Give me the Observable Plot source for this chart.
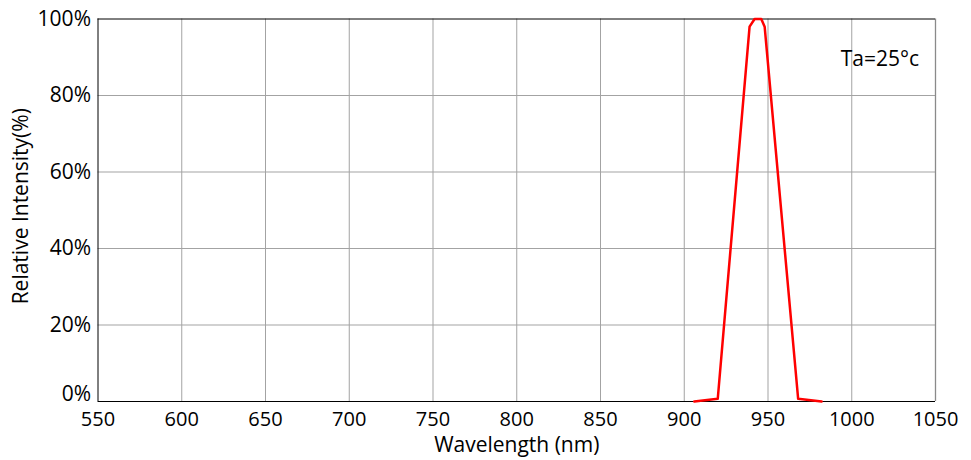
<!DOCTYPE html>
<html>
<head>
<meta charset="utf-8">
<script src="https://cdn.jsdelivr.net/npm/d3@7"></script>
<script src="https://cdn.jsdelivr.net/npm/@observablehq/plot@0.6"></script>
<style>
  html, body { margin: 0; padding: 0; background: #fff; }
  #chart { width: 971px; height: 460px; }
</style>
</head>
<body>
<div id="chart"></div>
<script>
const wavelength = [906, 920, 939, 942, 946, 948, 968, 982];
const intensity = [0, 0.7, 98, 100, 100, 98, 0.7, 0];
const xTicks = [550, 600, 650, 700, 750, 800, 850, 900, 950, 1000, 1050];
const yTicks = [0, 20, 40, 60, 80, 100];
const annotation = ["Ta=25°c"];

const data = wavelength.map((w, i) => ({w, v: intensity[i]}));
const font = "'Open Sans', 'Noto Sans', sans-serif";
const fs = 21;

const chart = Plot.plot({
  width: 971,
  height: 460,
  marginLeft: 97.5,
  marginRight: 36,
  marginTop: 18.5,
  marginBottom: 59,
  style: {fontFamily: font, background: "#fff", color: "#000"},
  x: {domain: [550, 1050]},
  y: {domain: [0, 100]},
  marks: [
    Plot.ruleX(xTicks.slice(1, -1), {stroke: "#a3a3a3", strokeWidth: 1}),
    Plot.ruleY(yTicks.slice(1, -1), {stroke: "#a3a3a3", strokeWidth: 1}),
    Plot.ruleX([1050], {stroke: "#8a8a8a", strokeWidth: 1.3}),
    Plot.ruleX([550], {stroke: "#000", strokeWidth: 1}),
    Plot.ruleY([0, 100], {stroke: "#000", strokeWidth: 1}),
    Plot.line(data, {x: "w", y: "v", stroke: "#ff0000", strokeWidth: 2.5}),
    Plot.text(annotation, {text: d => d, x: 993.4, y: 89.6, textAnchor: "start", fontSize: fs, fill: "#000"}),
    Plot.axisX({ticks: xTicks, tickSize: 0, tickPadding: 10, fontSize: 20, tickFormat: d => String(d), label: null}),
    Plot.text(["Wavelength (nm)"], {frameAnchor: "bottom", dy: 44, fontSize: fs, lineAnchor: "middle", fill: "#000"}),
    Plot.axisY({ticks: yTicks.slice(1), tickSize: 0, tickPadding: 7, fontSize: fs, tickFormat: d => d + "%", label: null}),
    Plot.text([yTicks[0]], {x: 550, y: d => d, text: d => d + "%", textAnchor: "end", dx: -7, dy: -7, fontSize: fs, fill: "#000"}),
    Plot.text(["Relative Intensity(%)"], {frameAnchor: "left", textAnchor: "middle", dx: -77, dy: -4, rotate: -90, fontSize: fs, fill: "#000"})
  ]
});
document.getElementById("chart").appendChild(chart);
</script>
</body>
</html>
